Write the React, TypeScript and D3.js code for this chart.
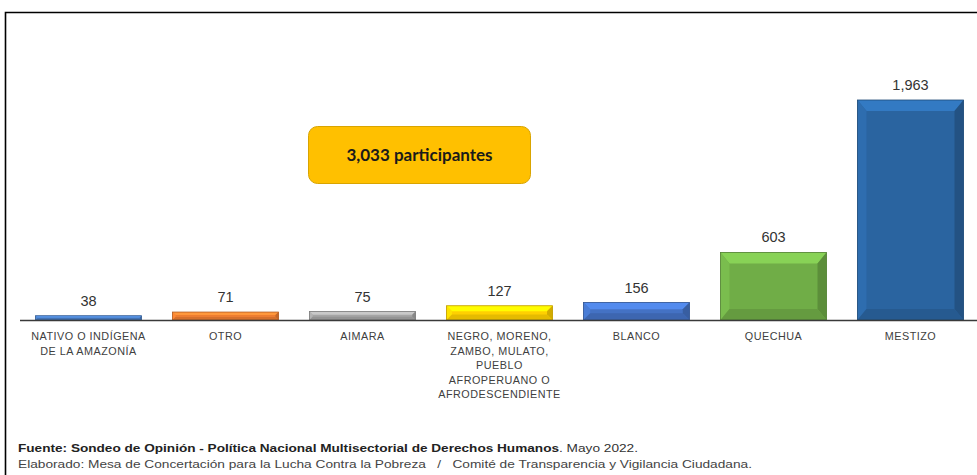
import React from "react";
import * as d3 from "d3";

const categories: string[][] = [
  ["NATIVO O INDÍGENA", "DE LA AMAZONÍA"],
  ["OTRO"],
  ["AIMARA"],
  ["NEGRO, MORENO,", "ZAMBO, MULATO,", "PUEBLO", "AFROPERUANO O", "AFRODESCENDIENTE"],
  ["BLANCO"],
  ["QUECHUA"],
  ["MESTIZO"],
];
const values: number[] = [38, 71, 75, 127, 156, 603, 1963];
const colors: string[] = ["#4A7EC4", "#ED7D31", "#A5A5A5", "#FFD000", "#4472C4", "#70AD47", "#2A64A0"];
const totalLabel = "3,033 participantes";
const sourceBold = "Fuente: Sondeo de Opinión - Política Nacional Multisectorial de Derechos Humanos";
const sourceRest = ". Mayo 2022.";
const elaborated =
  "Elaborado: Mesa de Concertación para la Lucha Contra la Pobreza   /   Comité de Transparencia y Vigilancia Ciudadana.";

const W = 977;
const H = 475;
const baseY = 320;
const topY = 100;

export default function App() {
  const keys = categories.map((_, i) => String(i));
  const x = d3.scaleBand<string>().domain(keys).range([20, 979]).paddingInner(0.226).paddingOuter(0.113);
  const y = d3.scaleLinear().domain([0, d3.max(values) as number]).range([baseY, topY]);
  const fmt = d3.format(",");
  const font = "'Liberation Sans', Arial, sans-serif";

  return (
    <svg width={W} height={H} style={{ position: "absolute", left: 0, top: 0, background: "#fff" }}>
      <path d={`M5.5,${H} V12.5 H${W}`} fill="none" stroke="#000" strokeWidth={1.6} />
      {values.map((v, i) => {
        const x0 = x(String(i)) as number;
        const bw = x.bandwidth();
        const y0 = y(v);
        const h = baseY - y0;
        const b = Math.min(11, h / 2.6);
        const bs = Math.min(9, h / 2.6);
        const c = d3.color(colors[i]) as d3.RGBColor;
        const light = c.brighter(0.55).formatHex();
        const lightL = c.brighter(0.25).formatHex();
        const dark = c.darker(0.55).formatHex();
        const darkB = c.darker(0.3).formatHex();
        const x1 = x0 + bw;
        return (
          <g key={i}>
            <rect x={x0} y={y0} width={bw} height={h} fill={colors[i]} />
            <polygon points={`${x0},${y0} ${x1},${y0} ${x1 - bs},${y0 + b} ${x0 + bs},${y0 + b}`} fill={light} />
            <polygon points={`${x0},${y0} ${x0 + bs},${y0 + b} ${x0 + bs},${baseY - b} ${x0},${baseY}`} fill={lightL} />
            <polygon points={`${x1},${y0} ${x1 - bs},${y0 + b} ${x1 - bs},${baseY - b} ${x1},${baseY}`} fill={dark} />
            <polygon points={`${x0},${baseY} ${x0 + bs},${baseY - b} ${x1 - bs},${baseY - b} ${x1},${baseY}`} fill={darkB} />
            <rect x={x0} y={y0} width={bw} height={h} fill="none" stroke={c.darker(0.8).formatHex()} strokeWidth={0.8} />
            <text x={x0 + bw / 2} y={y0 - 10} textAnchor="middle" fontFamily={font} fontSize={14.5} fill="#333">
              {fmt(v)}
            </text>
            {categories[i].map((line, j) => (
              <text key={j} x={x0 + bw / 2} y={340 + j * 14.5} textAnchor="middle" fontFamily={font} fontSize={10.8} letterSpacing={0.5} fill="#404040">
                {line}
              </text>
            ))}
          </g>
        );
      })}
      <line x1={20} x2={W} y1={baseY + 0.5} y2={baseY + 0.5} stroke="#3a3a3a" strokeWidth={1.6} />
      <rect x={308.5} y={126.5} width={222} height={57} rx={9} fill="#FFC000" stroke="#D9A400" strokeWidth={1} />
      <text x={419.5} y={161} textAnchor="middle" fontFamily="Lato, 'Open Sans', sans-serif" fontWeight="bold" fontSize={17} fill="#1a1a1a">
        {totalLabel}
      </text>
      <text x={18} y={452} fontFamily={font} fontSize={11} fontWeight="bold" fill="#222" textLength={541} lengthAdjust="spacingAndGlyphs">
        {sourceBold}
      </text>
      <text x={559} y={452} fontFamily={font} fontSize={11} fill="#333" textLength={79} lengthAdjust="spacingAndGlyphs">
        {sourceRest}
      </text>
      <text x={18} y={468} fontFamily={font} fontSize={11} fill="#444" style={{ whiteSpace: "pre" }} textLength={734} lengthAdjust="spacingAndGlyphs">
        {elaborated}
      </text>
    </svg>
  );
}
